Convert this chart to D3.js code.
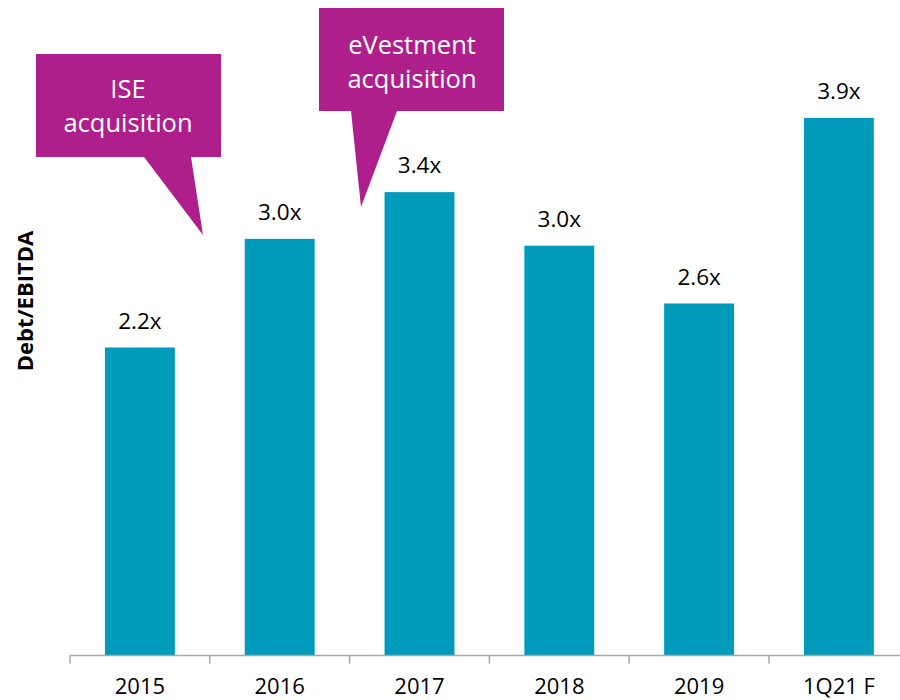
<!DOCTYPE html>
<html>
<head>
<meta charset="utf-8">
<script src="https://cdn.jsdelivr.net/npm/d3@7"></script>
<style>
  body { margin: 0; background: #fff; }
  text { font-family: "Open Sans", sans-serif; }
</style>
</head>
<body>
<div id="chart"></div>
<script>
// data
var categories = ["2015", "2016", "2017", "2018", "2019", "1Q21 F"];
var leverage = [2.24, 3.03, 3.37, 2.98, 2.56, 3.91];
var yTitle = "Debt/EBITDA";
var callouts = [
    { lines: ["ISE", "acquisition"] },
    { lines: ["eVestment", "acquisition"] }
];

function init() {
    var w = 900;
    var h = 700;
    var base = 655.5;
    var teal = "#009bba";
    var magenta = "#ae1f8c";

    var svg = d3.select("#chart")
        .append("svg")
        .attr("width", w)
        .attr("height", h);

    var x = d3.scaleBand()
        .domain(categories)
        .range([70, 70 + 6 * 139.8])
        .paddingInner(0.5)
        .paddingOuter(0.25);

    var y = d3.scaleLinear()
        .domain([0, 4])
        .range([base, base - 4 * 137.5]);

    var fmt = d3.format(".1f");
    var data = categories.map(function(c, i) {
        return { cat: c, v: leverage[i] };
    });

    // bars
    svg.selectAll("rect.bar")
        .data(data)
        .enter()
        .append("rect")
        .attr("class", "bar")
        .attr("x", function(d) { return x(d.cat); })
        .attr("y", function(d) { return y(d.v); })
        .attr("width", x.bandwidth())
        .attr("height", function(d) { return base - y(d.v); })
        .attr("fill", teal);

    // value labels
    svg.selectAll("text.val")
        .data(data)
        .enter()
        .append("text")
        .attr("class", "val")
        .attr("x", function(d) { return x(d.cat) + x.bandwidth() / 2; })
        .attr("y", function(d) { return y(d.v) - 19; })
        .attr("text-anchor", "middle")
        .attr("font-size", 22.5)
        .attr("fill", "#000")
        .text(function(d) { return fmt(d.v) + "x"; });

    // x axis: labels from d3 axis, boundary ticks drawn separately
    var axis = svg.append("g")
        .attr("transform", "translate(0," + base + ")")
        .call(d3.axisBottom(x).tickSize(0).tickPadding(23));
    axis.select(".domain").remove();
    axis.selectAll("text")
        .attr("font-size", 22)
        .attr("font-family", "Open Sans, sans-serif")
        .attr("fill", "#000");

    svg.append("line")
        .attr("x1", 70).attr("x2", w)
        .attr("y1", base).attr("y2", base)
        .attr("stroke", "#a6a6a6")
        .attr("stroke-width", 1.5);

    var step = x.step();
    svg.selectAll("line.tick")
        .data(categories)
        .enter()
        .append("line")
        .attr("class", "tick")
        .attr("x1", function(d) { return x(d) - (step - x.bandwidth()) / 2; })
        .attr("x2", function(d) { return x(d) - (step - x.bandwidth()) / 2; })
        .attr("y1", base)
        .attr("y2", base + 8)
        .attr("stroke", "#a6a6a6")
        .attr("stroke-width", 1.5);

    // y title
    svg.append("text")
        .attr("transform", "translate(33,301) rotate(-90)")
        .attr("text-anchor", "middle")
        .attr("font-size", 22)
        .attr("font-weight", "bold")
        .attr("fill", "#000")
        .text(yTitle);

    // callouts (annotation shapes)
    var shapes = [
        { box: [36, 54, 221, 157], tail: [[144, 157], [191, 157], [203, 235]], cx: 128, base1: 98 },
        { box: [319, 8, 504, 111], tail: [[351, 111], [397, 111], [361, 207]], cx: 412, base1: 54 }
    ];
    shapes.forEach(function(s, i) {
        var b = s.box;
        var path = "M" + b[0] + "," + b[1] +
            "H" + b[2] + "V" + b[3] +
            "H" + s.tail[1][0] + "L" + s.tail[2][0] + "," + s.tail[2][1] +
            "L" + s.tail[0][0] + "," + s.tail[0][1] +
            "H" + b[0] + "Z";
        svg.append("path")
            .attr("d", path)
            .attr("fill", magenta);
        svg.selectAll("text.co" + i)
            .data(callouts[i].lines)
            .enter()
            .append("text")
            .attr("class", "co" + i)
            .attr("x", s.cx)
            .attr("y", function(d, j) { return s.base1 + j * 34; })
            .attr("text-anchor", "middle")
            .attr("font-size", 25.5)
            .attr("fill", "#fff")
            .text(function(d) { return d; });
    });
}

window.onload = init;
</script>
</body>
</html>
